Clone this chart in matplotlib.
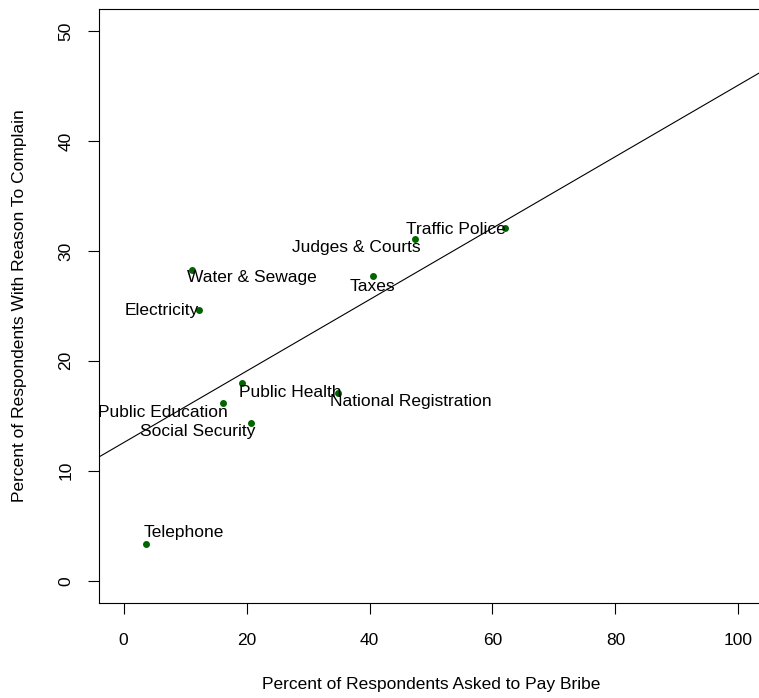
import numpy as np
import matplotlib
matplotlib.use("Agg")
import matplotlib.pyplot as plt

plt.rcParams['font.family'] = ['Liberation Sans', 'DejaVu Sans']

# Government services: share asked for a bribe vs. share with reason to complain
services = ["Traffic Police", "Judges & Courts", "Taxes", "Water & Sewage",
            "Electricity", "Public Health", "National Registration",
            "Public Education", "Social Security", "Telephone"]
bribe_pct = [62.1, 47.4, 40.5, 11.2, 12.2, 19.25, 34.8, 16.1, 20.8, 3.6]
complain_pct = [32.06, 31.1, 27.7, 28.3, 24.6, 18.0, 17.1, 16.2, 14.3, 3.36]

x_ticks = [0, 20, 40, 60, 80, 100]
y_ticks = [0, 10, 20, 30, 40, 50]

# label placement: horizontal alignment and offset in pixels from the point
label_ha = ["right", "right", "center", "left", "right",
            "left", "left", "right", "right", "left"]
label_off = [(0, -1), (6, -9), (0, -10), (-5, -8), (0, 0),
             (-3, -10), (-8, -9), (5, -10), (4, -8), (-2, 11)]

W, H = 759, 698
fig = plt.figure(figsize=(W / 100, H / 100), dpi=100)
left, right, top, bottom = 99, 763, 9, 602.7
ax = fig.add_axes([left / W, (H - bottom) / H, (right - left) / W, (bottom - top) / H])

ax.set_xlim(-4, 104)
ax.set_ylim(-2, 52)

ax.scatter(bribe_pct, complain_pct, s=(5.0) ** 2, color="darkgreen", zorder=3,
           linewidths=0)

slope, intercept = np.polyfit(bribe_pct, complain_pct, 1)
ax.axline((0, intercept), slope=slope, color="black", lw=0.8, zorder=2)

for name, x, y, ha, off in zip(services, bribe_pct, complain_pct, label_ha, label_off):
    ax.annotate(name, (x, y), xytext=off, textcoords="offset pixels",
                ha=ha, va="center", fontsize=12.5, color="black", zorder=4)

ax.set_xticks(x_ticks)
ax.set_yticks(y_ticks)
ax.set_yticklabels([str(v) for v in y_ticks], rotation=90, va="center")
ax.tick_params(axis="both", direction="out", length=8, width=0.8,
               labelsize=12.5, color="black")
ax.tick_params(axis="x", pad=14)
ax.tick_params(axis="y", pad=10.5)

for sp in ax.spines.values():
    sp.set_linewidth(0.8)
    sp.set_color("black")

ax.set_xlabel("Percent of Respondents Asked to Pay Bribe", fontsize=12.5, labelpad=20.5)
ax.set_ylabel("Percent of Respondents With Reason To Complain", fontsize=12.5, labelpad=22.5)

fig.savefig("out.png", dpi=100)
